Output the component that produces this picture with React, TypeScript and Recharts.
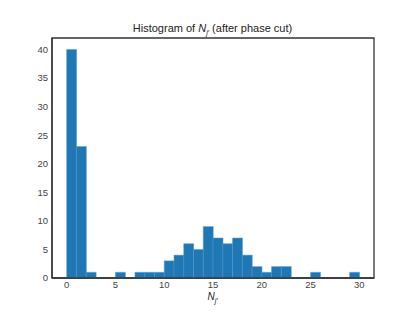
import React from 'react';
import { ComposedChart, Bar, XAxis, YAxis, ReferenceArea } from 'recharts';

// histogram bins of width 1, starting at 0
const binStarts = [
  0, 1, 2, 3, 4, 5, 6, 7, 8, 9, 10, 11, 12, 13, 14, 15, 16, 17, 18, 19, 20, 21, 22, 23, 24, 25,
  26, 27, 28, 29,
];
const binCounts = [
  40, 23, 1, 0, 0, 1, 0, 1, 1, 1, 3, 4, 6, 5, 9, 7, 6, 7, 4, 2, 1, 2, 2, 0, 0, 1, 0, 0, 0, 1,
];
const xTicks = [0, 5, 10, 15, 20, 25, 30];
const yTicks = [0, 5, 10, 15, 20, 25, 30, 35, 40];

const data = binStarts.map((s, i) => ({ mid: s + 0.5, count: binCounts[i] }));

const font = 'Liberation Sans, Arial, sans-serif';
const spine = '#333333';
const tickColor = '#444444';

export default function App() {
  return (
    <div style={{ position: 'absolute', left: 0, top: 0, width: 415, height: 313, background: '#fff' }}>
      <div
        style={{
          position: 'absolute',
          left: 52,
          width: 321,
          top: 22,
          textAlign: 'center',
          fontFamily: font,
          fontSize: 11,
          lineHeight: '13px',
          color: '#222',
        }}
      >
        Histogram of <i>N</i>
        <sub style={{ fontSize: 7, fontStyle: 'italic', lineHeight: 0 }}>j′</sub> (after phase cut)
      </div>
      <div
        style={{
          position: 'absolute',
          left: 52,
          width: 321,
          top: 291,
          textAlign: 'center',
          fontFamily: font,
          fontSize: 10,
          lineHeight: '11px',
          color: '#222',
        }}
      >
        <i>N</i>
        <sub style={{ fontSize: 7, fontStyle: 'italic', lineHeight: 0 }}>j′</sub>
      </div>
      <ComposedChart
        width={415}
        height={313}
        data={data}
        margin={{ top: 38, right: 41, left: 12, bottom: 14 }}
        barCategoryGap={0}
        barGap={0}
      >
        <XAxis
          dataKey="mid"
          type="number"
          domain={[-1.5, 31.5]}
          ticks={xTicks}
          allowDataOverflow
          height={21}
          tickLine={false}
          tickSize={0}
          axisLine={{ stroke: spine, strokeWidth: 1.3 }}
          tick={{ fill: tickColor, fontSize: 9.5, fontFamily: font }}
          tickMargin={3}
        />
        <YAxis
          domain={[0, 42]}
          ticks={yTicks}
          width={40}
          tickLine={false}
          tickSize={0}
          axisLine={{ stroke: spine, strokeWidth: 1.3 }}
          tick={{ fill: tickColor, fontSize: 9.5, fontFamily: font }}
          tickMargin={4}
        />
        <Bar
          dataKey="count"
          fill="#1f77b4"
          stroke="#5b9fd0"
          strokeWidth={0.5}
          isAnimationActive={false}
        />
        <ReferenceArea
          x1={-1.5}
          x2={31.5}
          y1={0}
          y2={42}
          fill="none"
          fillOpacity={0}
          stroke={spine}
          strokeWidth={1.3}
          ifOverflow="visible"
        />
      </ComposedChart>
    </div>
  );
}
